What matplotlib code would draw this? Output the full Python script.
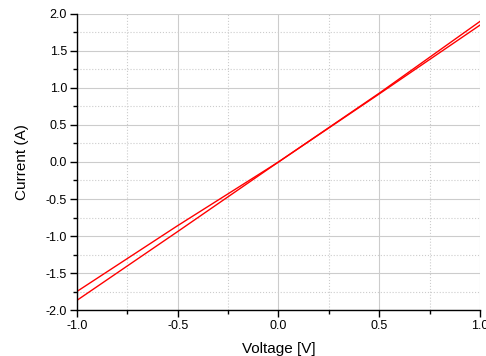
import matplotlib
matplotlib.use("Agg")
import matplotlib.pyplot as plt
from matplotlib.ticker import MultipleLocator

plt.rcParams['font.family'] = ['Liberation Sans', 'DejaVu Sans']

voltage = [-1.0, -0.5, 0.0, 0.5, 1.0]
current_fwd = [-1.75, -0.86, 0.0, 0.93, 1.90]
current_rev = [-1.87, -0.94, 0.0, 0.92, 1.85]

xticks = [-1.0, -0.5, 0.0, 0.5, 1.0]
yticks = [-2.0, -1.5, -1.0, -0.5, 0.0, 0.5, 1.0, 1.5, 2.0]

fig = plt.figure(figsize=(4.86, 3.56), dpi=100)
ax = fig.add_axes([0.158, 0.129, 0.830, 0.832])

ax.plot(voltage, current_fwd, color='red', lw=1.0)
ax.plot(voltage, current_rev, color='red', lw=1.0)

ax.set_xlim(-1.0, 1.0)
ax.set_ylim(-2.0, 2.0)
ax.set_xticks(xticks)
ax.set_yticks(yticks)
ax.set_xticklabels([f"{t:.1f}" for t in xticks])
ax.set_yticklabels([f"{t:.1f}" for t in yticks])
ax.xaxis.set_minor_locator(MultipleLocator(0.25))
ax.yaxis.set_minor_locator(MultipleLocator(0.25))

ax.grid(which='major', color='#cccccc', lw=0.8, ls='-')
ax.grid(which='minor', color='#cccccc', lw=0.8, ls=':')
ax.set_axisbelow(True)

for s in ['top', 'right']:
    ax.spines[s].set_visible(False)
for s in ['left', 'bottom']:
    ax.spines[s].set_linewidth(1.0)

ax.tick_params(which='major', direction='out', length=5, width=1.0, labelsize=9, pad=2)
ax.tick_params(which='minor', direction='out', length=3, width=1.0)

ax.set_xlabel('Voltage [V]', fontsize=11, labelpad=7)
ax.set_ylabel('Current (A)', fontsize=11, labelpad=12)

fig.savefig('out.png', dpi=100)
